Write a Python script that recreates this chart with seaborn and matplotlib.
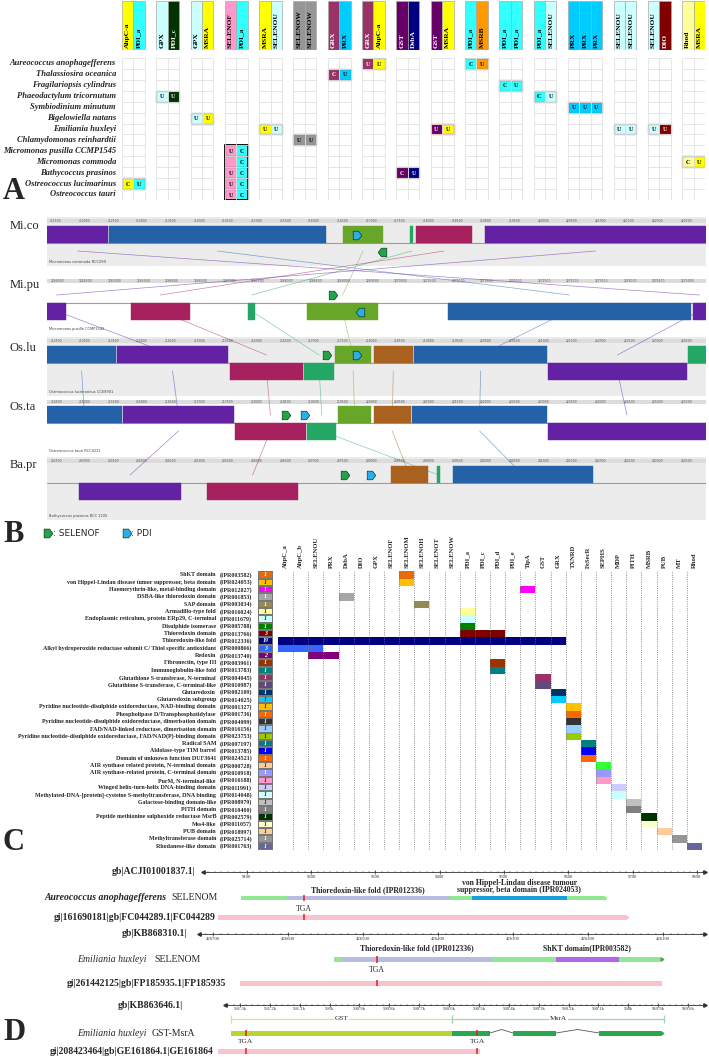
import numpy as np
import pandas as pd
import matplotlib
matplotlib.use("Agg")
import matplotlib.pyplot as plt
import seaborn as sns
from matplotlib.colors import ListedColormap, to_rgb
from matplotlib.patches import Rectangle

sns.set_theme(style="white")
plt.rcParams["font.family"] = ["Liberation Serif", "DejaVu Serif"]

# ------------------------------------------------------------------ data A
a_species = ["Aureococcus anophagefferens", "Thalassiosira oceanica", "Fragilariopsis cylindrus",
             "Phaeodactylum tricornutum", "Symbiodinium minutum", "Bigelowiella natans",
             "Emiliania huxleyi", "Chlamydomonas reinhardtii", "Micromonas pusilla CCMP1545",
             "Micromonas commoda", "Bathycoccus prasinos", "Ostreococcus lucimarinus",
             "Ostreococcus tauri"]
a_groups = [["AhpC-a", "PDI_a"], ["GPX", "PDI_c"], ["GPX", "MSRA"], ["SELENOF", "PDI_a"],
            ["MSRA", "SELENOU"], ["SELENOW", "SELENOW"], ["GRX", "PRX"], ["GRX", "AhpC-a"],
            ["GST", "DsbA"], ["GST", "MSRA"], ["PDI_a", "MSRB"], ["PDI_a", "PDI_a"],
            ["PDI_a", "SELENOU"], ["PRX", "PRX", "PRX"], ["SELENOU", "SELENOU"],
            ["SELENOU", "DIO"], ["Rhod", "MSRA"]]
a_cell_species = [0, 0, 1, 2, 3, 3, 4, 5, 6, 6, 6, 6, 7, 8, 9, 9, 10, 10, 11, 11, 12]
a_cell_group = [7, 10, 6, 11, 1, 12, 13, 2, 4, 9, 14, 15, 5, 3, 3, 16, 3, 8, 0, 3, 3]
a_cell_letters = ["UU", "CU", "CU", "CU", "UU", "CU", "UUU", "UU", "UU", "UU", "UU", "UU",
                  "UU", "UC", " C", "CU", "UC", "CU", "CU", "UC", "UC"]

# ------------------------------------------------------------------ data B
b_tracks = ["Mi.co", "Mi.pu", "Os.lu", "Os.ta", "Ba.pr"]
b_titles = ["Micromonas commoda RCC299", "Micromonas pusilla CCMP1545",
            "Ostreococcus lucimarinus CCE9901", "Ostreococcus tauri RCC4221",
            "Bathycoccus prasinos RCC 1105"]
b_ruler_start = [411500, 1264000, 212500, 214500, 232500]
b_ruler_step = [500, 500, 500, 500, 500]
b_blk_track = [0, 0, 0, 0, 0, 0,
               1, 1, 1, 1, 1, 1,
               2, 2, 2, 2, 2, 2, 2, 2, 2,
               3, 3, 3, 3, 3, 3, 3, 3,
               4, 4, 4, 4, 4]
b_blk_lcb = ["P1", "B1", "G1", "S1", "M1", "P2",
             "P2", "M1", "S1", "G1", "B1", "P1",
             "B2", "P2", "M1", "S1", "G1", "O1", "B1", "P1", "G2",
             "B2", "P2", "M1", "S1", "G1", "O1", "B1", "P1",
             "P2", "M1", "O1", "S1", "B1"]
b_blk_start = [0.0, 9.4, 44.9, 55.1, 56.0, 66.5,
               0.0, 12.7, 30.5, 39.5, 60.8, 98.0,
               0.0, 10.6, 27.8, 39.0, 43.7, 49.6, 55.7, 76.0, 97.3,
               0.0, 11.5, 28.5, 39.5, 44.2, 49.6, 55.4, 76.0,
               4.9, 24.3, 52.2, 59.2, 61.6]
b_blk_end = [9.3, 42.3, 51.0, 55.6, 64.5, 100.0,
             2.9, 21.7, 31.6, 50.2, 97.7, 100.0,
             10.5, 27.5, 38.8, 43.6, 49.2, 55.5, 75.9, 97.1, 100.0,
             11.4, 28.4, 39.3, 43.9, 49.2, 55.2, 75.9, 100.0,
             20.3, 38.1, 57.8, 59.7, 82.9]
b_blk_strand = [1, 1, 1, 1, 1, 1,
                -1, -1, -1, -1, -1, -1,
                1, 1, -1, -1, 1, 1, 1, -1, 1,
                1, 1, -1, -1, 1, 1, 1, -1,
                -1, -1, 1, 1, 1]
b_icon_track = [0, 0, 1, 1, 2, 2, 3, 3, 4, 4]
b_icon_kind = ["PDI", "SELENOF", "SELENOF", "PDI", "SELENOF", "PDI", "SELENOF", "PDI", "SELENOF", "PDI"]
b_icon_x = [47.0, 50.8, 43.4, 47.5, 42.5, 47.0, 36.3, 39.2, 45.2, 49.2]
b_icon_dir = [1, -1, 1, -1, 1, 1, 1, 1, 1, 1]
b_icon_side = [1, -1, 1, -1, 1, 1, 1, 1, 1, 1]

# ------------------------------------------------------------------ data C
c_domains = ["ShKT domain", "von Hippel-Lindau disease tumor suppressor, beta domain",
             "Haemerythrin-like, metal-binding domain", "DSBA-like thioredoxin domain",
             "SAP domain", "Armadillo-type fold", "Endoplasmic reticulum, protein ERp29, C-terminal",
             "Disulphide isomerase", "Thioredoxin domain", "Thioredoxin-like fold",
             "Alkyl hydroperoxide reductase subunit C/ Thiol specific antioxidant", "Redoxin",
             "Fibronectin, type III", "Immunoglobulin-like fold",
             "Glutathione S-transferase, N-terminal", "Glutathione S-transferase, C-terminal-like",
             "Glutaredoxin", "Glutaredoxin subgroup",
             "Pyridine nucleotide-disulphide oxidoreductase, NAD-binding domain",
             "Phospholipase D/Transphosphatidylase",
             "Pyridine nucleotide-disulphide oxidoreductase, dimerisation domain",
             "FAD/NAD-linked reductase, dimerisation domain",
             "Pyridine nucleotide-disulphide oxidoreductase, FAD/NAD(P)-binding domain",
             "Radical SAM", "Aldolase-type TIM barrel", "Domain of unknown function DUF3641",
             "AIR synthase related protein, N-terminal domain",
             "AIR synthase-related protein, C-terminal domain", "PurM, N-terminal-like",
             "Winged helix-turn-helix DNA-binding domain",
             "Methylated-DNA-[protein]-cysteine S-methyltransferase, DNA binding",
             "Galactose-binding domain-like", "PITH domain",
             "Peptide methionine sulphoxide reductase MsrB", "Mss4-like", "PUB domain",
             "Methyltransferase domain", "Rhodanese-like domain"]
c_codes = ["IPR003582", "IPR024053", "IPR012827", "IPR001853", "IPR003034", "IPR016024",
           "IPR011679", "IPR005788", "IPR013766", "IPR012336", "IPR000866", "IPR013740",
           "IPR003961", "IPR013783", "IPR004045", "IPR010987", "IPR002109", "IPR014025",
           "IPR001327", "IPR001736", "IPR004099", "IPR016156", "IPR023753", "IPR007197",
           "IPR013785", "IPR024521", "IPR000728", "IPR010918", "IPR016188", "IPR011991",
           "IPR014048", "IPR008979", "IPR010400", "IPR002579", "IPR011057", "IPR018997",
           "IPR025714", "IPR001763"]
c_proteins = ["AhpC_a", "AhpC_b", "SELENOU", "PRX", "DsbA", "DIO", "GPX", "SELENOF", "SELENOM",
              "SELENOH", "SELENOT", "SELENOW", "PDI_a", "PDI_c", "PDI_d", "PDI_e", "TlpA", "GST",
              "GRX", "TXNRD", "FeSecR", "SEPHS", "MDP", "PITH", "MSRB", "PUB", "MT", "Rhod"]
c_hits = [["SELENOM"], ["SELENOM"], ["TlpA"], ["DsbA"], ["SELENOH"], ["PDI_a"], ["PDI_a"],
          ["PDI_a"], ["PDI_a", "PDI_c", "PDI_d"],
          ["AhpC_a", "AhpC_b", "SELENOU", "PRX", "DsbA", "DIO", "GPX", "SELENOF", "SELENOM",
           "SELENOH", "SELENOT", "SELENOW", "PDI_a", "PDI_c", "PDI_d", "PDI_e", "TlpA", "GST", "GRX"],
          ["AhpC_a", "AhpC_b", "SELENOU"], ["SELENOU", "PRX"], ["PDI_d"], ["PDI_d"], ["GST"],
          ["GST"], ["GRX"], ["GRX"], ["TXNRD"], ["TXNRD"], ["TXNRD"], ["TXNRD"], ["TXNRD"],
          ["FeSecR"], ["FeSecR"], ["FeSecR"], ["SEPHS"], ["SEPHS"], ["SEPHS"], ["MDP"], ["MDP"],
          ["PITH"], ["PITH"], ["MSRB"], ["MSRB"], ["PUB"], ["MT"], ["Rhod"]]

# ------------------------------------------------------------------ data D
d1_ticks = [9100, 9200, 9300, 9400, 9500, 9600, 9700, 9800]
d1_gene = (9091, 9657)
d1_domains = [(9162, 9416), (9450, 9598)]
d1_domain_names = ["Thioredoxin-like fold (IPR012336)",
                   "von Hippel-Lindau disease tumour\nsuppressor, beta domain (IPR024053)"]
d1_est = (9055, 9691)
d1_tga = [9189]
d2_ticks = [426700, 426600, 426500, 426400, 426300, 426200, 426100]
d2_gene = (426539, 426101)
d2_domains = [(426528, 426328), (426243, 426159)]
d2_domain_names = ["Thioredoxin-like fold (IPR012336)", "ShKT domain(IPR003582)"]
d2_est = (426664, 426101)
d2_tga = [426481]
d3_ticks = [591300, 591200, 591100, 591000, 590900, 590800, 590700, 590600, 590500,
            590400, 590300, 590200, 590100, 590000, 589900, 589800]
d3_tick_labels = ["591.3k", "591.2k", "591.1k", "591k", "590.9k", "590.8k", "590.7k", "590.6k",
                  "590.5k", "590.4k", "590.3k", "590.2k", "590.1k", "590k", "589.9k", "589.8k"]
d3_gst = (591330, 590590)
d3_msra = (590590, 589880)
d3_exons = [(590590, 590463), (590386, 590242), (590098, 589887)]
d3_est = (591373, 590496)
d3_tga = [591280, 590506]

# ------------------------------------------------------------------ styles
W, H = 709, 1057
fig = plt.figure(figsize=(W / 100, H / 100), dpi=100)
fig.patch.set_facecolor("white")


def add_ax(x0, y0, x1, y1):
    ax = fig.add_axes([x0 / W, 1 - y1 / H, (x1 - x0) / W, (y1 - y0) / H])
    ax.set_axis_off()
    return ax


def txtcol(c):
    r, g, b = to_rgb(c)
    return "white" if 0.299 * r + 0.587 * g + 0.114 * b < 0.45 else "black"


gene_colors = {"AhpC-a": "#FFFF00", "PDI_a": "#33FFFF", "GPX": "#CCFFFF", "PDI_c": "#003300",
               "MSRA": "#FFFF00", "SELENOF": "#FF99CC", "SELENOU": "#CCFFFF", "SELENOW": "#969696",
               "GRX": "#993366", "PRX": "#00CCFF", "GST": "#660066", "DsbA": "#000080",
               "MSRB": "#FF9900", "DIO": "#800000", "Rhod": "#FFFF99"}

# ================================================================== Panel A
axh = add_ax(122, 1, 705, 50)
axh.set_xlim(0, 51); axh.set_ylim(0, 1)
axg = add_ax(122, 58, 705, 200)
axg.set_xlim(0, 51); axg.set_ylim(13, 0)
starts = []
s = 0
for grp in a_groups:
    starts.append(s)
    s += len(grp) + 1
for gi, grp in enumerate(a_groups):
    s0 = starts[gi]
    xs = s0 + np.arange(len(grp)) + 0.5
    cols = [gene_colors[g] for g in grp]
    axh.bar(xs, 1, width=1, color=cols, edgecolor="#a8a8a8", linewidth=0.5)
    for x, g in zip(xs, grp):
        axh.text(x, 0.04, g, rotation=90, ha="center", va="bottom", fontsize=5.4,
                 fontweight="bold", color=txtcol(gene_colors[g]))
    axg.vlines(s0 + np.arange(len(grp) + 1), 0, 13, color="#e2e2e2", lw=0.6)
    axg.hlines(np.arange(14), s0, s0 + len(grp), color="#e2e2e2", lw=0.6)

for sp, gi, letters in zip(a_cell_species, a_cell_group, a_cell_letters):
    grp = a_groups[gi]
    s0 = starts[gi]
    for k, (g, L) in enumerate(zip(grp, letters)):
        axg.bar(s0 + k + 0.5, 1, bottom=sp, width=1, color=gene_colors[g],
                edgecolor="#9a9a9a", linewidth=0.4)
        if L.strip():
            axg.text(s0 + k + 0.5, sp + 0.55, L, ha="center", va="center", fontsize=4.3,
                     fontweight="bold", color=txtcol(gene_colors[g]))
    edge = "#e03030" if (sp, gi) == (6, 9) else "#7a7a7a"
    axg.add_patch(Rectangle((s0, sp), len(grp), 1, fill=False, ec=edge, lw=0.9))
axg.add_patch(Rectangle((starts[3], 8), 2, 5, fill=False, ec="black", lw=1.3))

# ================================================================== Panel B
axB = add_ax(47, 205, 706, 525)
axB.set_xlim(0, 100); axB.set_ylim(525, 205)
centers = [243, 303, 363, 423, 483]
rulers = [221, 281, 341, 402, 461]
bgs = [(217, 266, "#ececec"), (277, 333, "#ffffff"), (337, 396, "#ececec"),
       (398, 455, "#ffffff"), (457, 520, "#ececec")]
lcb_colors = {"P1": "#6321a3", "P2": "#6321a3", "B1": "#2461a6", "B2": "#2461a6",
              "G1": "#68a62a", "G2": "#23a765", "S1": "#23a765", "M1": "#a8215f", "O1": "#a8611f"}
for ti in range(len(b_tracks)):
    t0, t1, bc = bgs[ti]
    axB.fill_between([0, 100], t0, t1, color=bc, zorder=0, lw=0)
    axB.plot([0, 100], [centers[ti], centers[ti]], color="#9c9c9c", lw=0.8, zorder=1)
    axB.fill_between([0, 100], rulers[ti] - 2, rulers[ti] + 2, color="#dcdcdc", zorder=1, lw=0)
    xt = np.linspace(0, 100, 24)[:-1]
    for k, x in enumerate(xt):
        axB.text(x + 0.5, rulers[ti], str(b_ruler_start[ti] + k * b_ruler_step[ti]),
                 fontsize=2.2, ha="left", va="center", color="#555555", family="DejaVu Sans")
    axB.text(0.3, t1 - 2, b_titles[ti], fontsize=2.6, ha="left", va="bottom",
             color="#444444", family="DejaVu Sans")

mids = {}
for tr, lcb, st, en, sd in zip(b_blk_track, b_blk_lcb, b_blk_start, b_blk_end, b_blk_strand):
    bottom = centers[tr] - 17 if sd > 0 else centers[tr]
    axB.bar(st, 17, width=en - st, bottom=bottom, align="edge", color=lcb_colors[lcb],
            edgecolor=lcb_colors[lcb], linewidth=0.3, zorder=3)
    mids.setdefault(lcb, []).append((tr, (st + en) / 2))
for lcb, pts in mids.items():
    pts = sorted(pts)
    for (t1_, m1), (t2_, m2) in zip(pts[:-1], pts[1:]):
        axB.plot([m1, m2], [centers[t1_] + 8, centers[t2_] - 8], color=lcb_colors[lcb],
                 lw=0.5, alpha=0.55, zorder=2)

arrow_r = [(-1, -1), (0.25, -1), (1, 0), (0.25, 1), (-1, 1), (-1, -1)]
arrow_l = [(-x, y) for x, y in arrow_r]
icon_col = {"SELENOF": "#22a447", "PDI": "#29aee8"}
for tr, kind, x, dr, sd in zip(b_icon_track, b_icon_kind, b_icon_x, b_icon_dir, b_icon_side):
    y = centers[tr] - 8.5 if sd > 0 else centers[tr] + 8.5
    axB.scatter([x], [y], marker=arrow_r if dr > 0 else arrow_l, s=38, c=icon_col[kind],
                edgecolors="#0f3b20", linewidths=0.5, zorder=6)

# ================================================================== Panel C
n = len(c_domains)
c_colors = ["#E46C0A", "#FFC000", "#FF00FF", "#A6A6A6", "#948A54", "#FFFF99", "#CCFFFF",
            "#008000", "#800000", "#000080", "#3366FF", "#800080", "#993300", "#008080",
            "#993366", "#604A7B", "#003366", "#00CCFF", "#FFC000", "#FF6600", "#333333",
            "#99CCFF", "#99CC00", "#008080", "#0000FF", "#FF6600", "#FFCC99", "#9999FF",
            "#FF99CC", "#CCCCFF", "#CCFFFF", "#C0C0C0", "#808080", "#003300", "#FFFFCC",
            "#FFCC99", "#969696", "#666699"]
c_matrix_colors = list(c_colors)
c_matrix_colors[26] = "#33FF33"
counts = np.array([len(h) for h in c_hits]).reshape(-1, 1)
mat = np.full((n, len(c_proteins)), np.nan)
for i, hits in enumerate(c_hits):
    for p in hits:
        mat[i, c_proteins.index(p)] = i

top_c, bot_c = 571.3, 850
axCL = add_ax(258, top_c, 273, bot_c)
sns.heatmap(pd.DataFrame(np.arange(n).reshape(-1, 1)), ax=axCL, cmap=ListedColormap(c_colors),
            vmin=-0.5, vmax=n - 0.5, cbar=False, annot=counts, fmt="d",
            annot_kws=dict(fontsize=4.2, fontstyle="italic", fontweight="bold"),
            linewidths=0.3, linecolor="#777777", xticklabels=False, yticklabels=False)
axCL.set_axis_off()
axCM = add_ax(278, top_c, 702, bot_c)
sns.heatmap(pd.DataFrame(mat, columns=c_proteins), ax=axCM,
            cmap=ListedColormap(c_matrix_colors), vmin=-0.5, vmax=n - 0.5, cbar=False,
            xticklabels=False, yticklabels=False)
axCM.set_axis_off()
axCM.vlines(np.arange(1, len(c_proteins) + 1), -0.2, n, colors="#707070", linestyles=":", lw=0.6)
for j, p in enumerate(c_proteins):
    axCM.text(j + 0.5, -0.5, p, rotation=90, ha="center", va="bottom", fontsize=4.8,
              fontweight="bold", clip_on=False)

# ================================================================== Panel D


def ruler(ax, y, g0, g1, ticks, labels, minor):
    ax.plot([g0, g1], [y, y], color="#333333", lw=0.6)
    ax.vlines(minor, y - 1.0, y + 1.0, color="#333333", lw=0.35)
    ax.vlines(ticks, y - 2.0, y + 2.0, color="#333333", lw=0.5)
    for v, l in zip(ticks, labels):
        ax.text(v, y + 2.5, l, fontsize=3.4, ha="center", va="top", color="#333333")
    ax.plot([g0], [y], marker="<", ms=2.5, color="#333333")
    ax.plot([g1], [y], marker=">", ms=2.5, color="#333333")


def bar(ax, a, b, y, h, color, z=2):
    ax.barh(y, b - a, left=a, height=h, color=color, lw=0, zorder=z)


def tga(ax, xs, y, h):
    ax.vlines(xs, y - h / 2, y + h / 2, color="#e02020", lw=1.1, zorder=5)


green_bar = "#90e890"
pink_bar = "#f7c4cd"
# D1
axD1 = add_ax(0, 862, 709, 925)
axD1.set_xlim(8716, 9819); axD1.set_ylim(925, 862)
ruler(axD1, 872, 9032, 9812, d1_ticks, [str(t) for t in d1_ticks], np.arange(9040, 9812, 10))
bar(axD1, d1_gene[0], d1_gene[1], 898, 4, green_bar)
axD1.plot([d1_gene[1]], [898], marker=">", ms=2, color=green_bar)
bar(axD1, *d1_domains[0], 898, 4, "#b8bde0", 3)
bar(axD1, *d1_domains[1], 898, 4, "#1a9fdc", 3)
for (a, b), nm in zip(d1_domains, d1_domain_names):
    axD1.text((a + b) / 2, 894, nm, ha="center", va="bottom", fontsize=5.6, fontweight="bold",
              linespacing=0.9)
tga(axD1, d1_tga, 898, 6)
for x in d1_tga:
    axD1.text(x, 905, "TGA", ha="center", va="top", fontsize=5.6)
bar(axD1, d1_est[0], d1_est[1], 917, 5, pink_bar)
axD1.plot([d1_est[1]], [917], marker=">", ms=2, color=pink_bar)
tga(axD1, d1_tga, 917, 6)
# D2
axD2 = add_ax(0, 925, 709, 990)
axD2.set_xlim(426984, 426038.7); axD2.set_ylim(990, 925)
ruler(axD2, 934, 426719, 426044, d2_ticks, [str(t) for t in d2_ticks], np.arange(426710, 426044, -10))
bar(axD2, d2_gene[1], d2_gene[0], 959, 5, green_bar)
axD2.plot([d2_gene[1]], [959], marker=">", ms=2, color="#5a9a5a")
bar(axD2, d2_domains[0][1], d2_domains[0][0], 959, 5, "#b8bde0", 3)
bar(axD2, d2_domains[1][1], d2_domains[1][0], 959, 5, "#b566e8", 3)
for (a, b), nm in zip(d2_domains, d2_domain_names):
    axD2.text((a + b) / 2, 952, nm, ha="center", va="bottom", fontsize=5.6, fontweight="bold")
tga(axD2, d2_tga, 959, 7)
for x in d2_tga:
    axD2.text(x, 966, "TGA", ha="center", va="top", fontsize=5.6)
bar(axD2, d2_est[1], d2_est[0], 983, 5, pink_bar)
tga(axD2, d2_tga, 983, 6)
# D3
axD3 = add_ax(0, 995, 709, 1057)
axD3.set_xlim(592103.5, 589729.9); axD3.set_ylim(1057, 995)
ruler(axD3, 1005, 591350, 589743, d3_ticks, d3_tick_labels, np.arange(591340, 589743, -20))
for (a, b), nm, col in [(d3_gst, "GST", "#d4e39a"), (d3_msra, "MsrA", "#9fd6b3")]:
    axD3.plot([a, b], [1019, 1019], color=col, lw=0.9)
    axD3.vlines([a, b], 1015, 1023, color=col, lw=0.9)
    axD3.text((a + b) / 2, 1019, nm, ha="center", va="center", fontsize=5.2,
              bbox=dict(facecolor="white", edgecolor="none", pad=0.6))
bar(axD3, d3_gst[1], d3_gst[0], 1033, 5, "#b9d531")
for a, b in d3_exons:
    bar(axD3, b, a, 1033, 5, "#2aa84f", 3)
for (a1, b1), (a2, b2) in zip(d3_exons[:-1], d3_exons[1:]):
    axD3.plot([b1, (b1 + a2) / 2, a2], [1033, 1029.5, 1033], color="#555555", lw=0.6)
axD3.plot([d3_exons[-1][1]], [1033], marker=">", ms=2, color="#2aa84f")
tga(axD3, d3_tga, 1033, 6)
for x in d3_tga:
    axD3.text(x, 1039, "TGA", ha="center", va="top", fontsize=5.4)
bar(axD3, d3_est[1], d3_est[0], 1051, 5, pink_bar)
tga(axD3, d3_tga, 1051, 6)

# ================================================================== overlay text
ov = add_ax(0, 0, W, H)
ov.set_xlim(0, W); ov.set_ylim(H, 0)
for i, sp in enumerate(a_species):
    ov.text(116, 58 + 10.92 * (i + 0.5), sp, ha="right", va="center", fontsize=6.1,
            fontstyle="italic", fontweight="bold")
label_y = [226, 285, 348, 407, 465]
for t, y in zip(b_tracks, label_y):
    ov.text(10, y, t, ha="left", va="center", fontsize=9)
ov.scatter([48], [533], marker=arrow_r, s=40, c=icon_col["SELENOF"], edgecolors="#0f3b20", linewidths=0.5)
ov.text(53, 533, ": SELENOF", ha="left", va="center", fontsize=6.5, family="DejaVu Sans")
ov.scatter([127], [533], marker=arrow_r, s=40, c=icon_col["PDI"], edgecolors="#0f3b20", linewidths=0.5)
ov.text(131, 533, ": PDI", ha="left", va="center", fontsize=6.5, family="DejaVu Sans")
rh = (bot_c - top_c) / n
for i, (d, c) in enumerate(zip(c_domains, c_codes)):
    y = top_c + rh * (i + 0.5)
    ov.text(216, y, d, ha="right", va="center", fontsize=4.3, fontweight="bold")
    ov.text(220, y, f"({c})", ha="left", va="center", fontsize=4.3, fontweight="bold")
for lab, y in [("A", 199), ("B", 542), ("C", 850), ("D", 1040)]:
    ov.text(3, y, lab, ha="left", va="baseline", fontsize=22, fontweight="bold")
# panel D side labels
ov.text(195, 872, "gb|ACJI01001837.1|", ha="right", va="center", fontsize=7, fontweight="bold")
ov.text(167, 898, "Aureococcus anophagefferens", ha="right", va="center", fontsize=7,
        fontstyle="italic", fontweight="bold")
ov.text(171, 898, "SELENOM", ha="left", va="center", fontsize=7)
ov.text(216, 917, "gi|161690181|gb|FC044289.1|FC044289", ha="right", va="center", fontsize=7,
        fontweight="bold")
ov.text(187, 934, "gb|KB868310.1|", ha="right", va="center", fontsize=7, fontweight="bold")
ov.text(147, 959, "Emiliania huxleyi", ha="right", va="center", fontsize=7, fontstyle="italic")
ov.text(154, 959, "SELENOM", ha="left", va="center", fontsize=7)
ov.text(226, 983, "gi|261442125|gb|FP185935.1|FP185935", ha="right", va="center", fontsize=7,
        fontweight="bold")
ov.text(183, 1005, "gb|KB863646.1|", ha="right", va="center", fontsize=7, fontweight="bold")
ov.text(147, 1033, "Emiliania huxleyi", ha="right", va="center", fontsize=7, fontstyle="italic")
ov.text(152, 1033, "GST-MsrA", ha="left", va="center", fontsize=7)
ov.text(213, 1051, "gi|208423464|gb|GE161864.1|GE161864", ha="right", va="center", fontsize=7,
        fontweight="bold")

fig.savefig("out.png", dpi=100, facecolor="white")
